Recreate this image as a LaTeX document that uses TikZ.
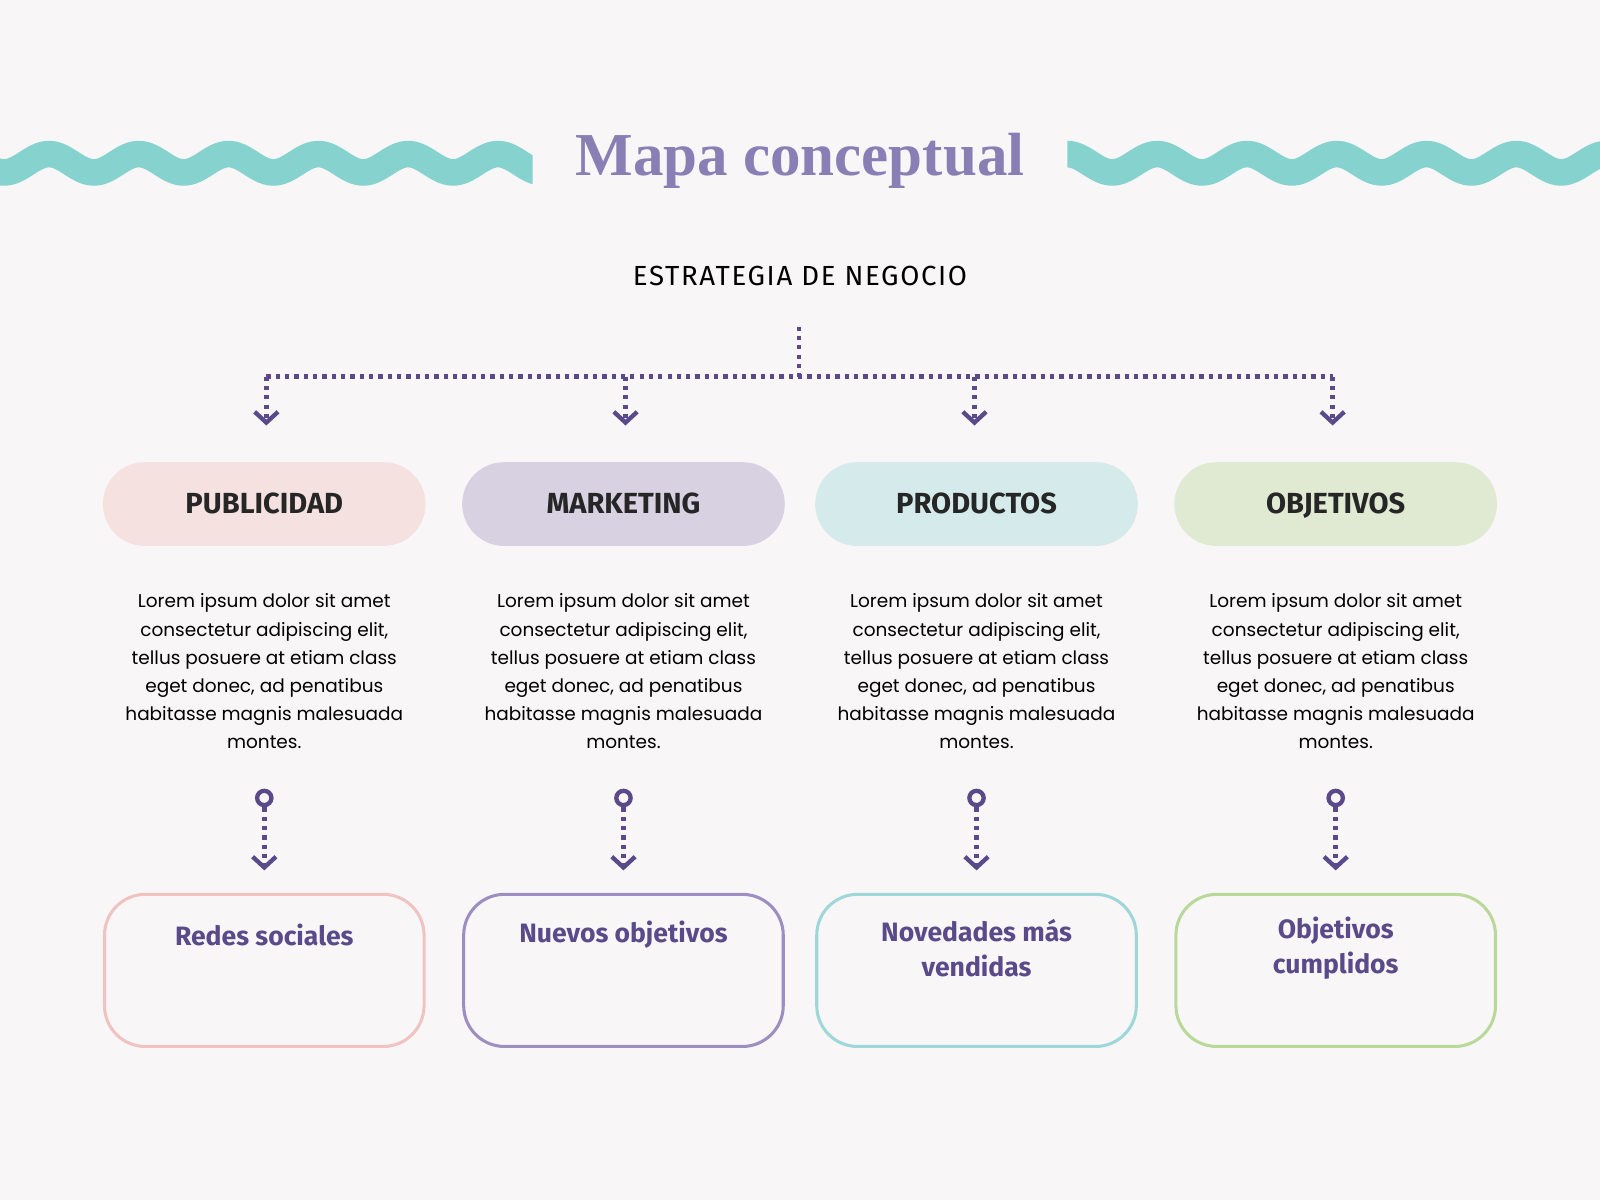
\documentclass[tikz,border=0pt]{standalone}
\usepackage{fontspec}
\setmainfont{Lato}
\newfontfamily\titlefont{Liberation Serif}
\newfontfamily\headfont{Fira Sans}
\newfontfamily\bodyfont{Poppins}
\usetikzlibrary{arrows.meta}
\definecolor{bg}{HTML}{F8F6F7}
\definecolor{wave}{HTML}{86D2CF}
\definecolor{ttl}{HTML}{8A7FB5}
\definecolor{pur}{HTML}{5A4A8A}
\definecolor{f1}{HTML}{F6E1E1}\definecolor{f2}{HTML}{D7D1E2}
\definecolor{f3}{HTML}{D5EAEA}\definecolor{f4}{HTML}{E0EAD3}
\definecolor{b1}{HTML}{F0C3C3}\definecolor{b2}{HTML}{9A8FC0}
\definecolor{b3}{HTML}{9FD7D8}\definecolor{b4}{HTML}{B8D99A}
\begin{document}
\begin{tikzpicture}[x=0.01cm,y=-0.01cm,
 pill/.style={rounded corners=0.41cm,minimum width=3.16cm,minimum height=0.82cm,text height=1.8mm,text depth=0mm,font=\headfont\bfseries\fontsize{8.1}{9}\selectfont,text=black!85},
 box/.style={draw,line width=0.85pt,rounded corners=0.4cm,minimum width=3.13cm,minimum height=1.49cm},
 boxt/.style={font=\headfont\bfseries\fontsize{7.4}{9.6}\selectfont,text=pur,align=center},
 body/.style={font=\bodyfont\fontsize{5.15}{7.85}\selectfont,align=center,text=black},
 dot/.style={draw=pur,line width=1.25pt,dash pattern=on 1.2pt off 1.4pt},
 tip/.style={-{Straight Barb[length=3pt,width=6.5pt,line width=1.2pt]}}]
\fill[bg] (0,0) rectangle (1568,1176);
\useasboundingbox (0,0) rectangle (1568,1176);
\begin{scope}
\clip (0,100) rectangle (522,200);
\draw[wave,line width=0.26cm] plot[domain=-10:530,samples=200,smooth] (\x,{160-9*cos((\x-48)/88*360)});
\end{scope}
\begin{scope}
\clip (1046,100) rectangle (1568,200);
\draw[wave,line width=0.26cm] plot[domain=1040:1580,samples=200,smooth] (\x,{160-9*cos((\x-1134)/88*360)});
\end{scope}
\node (title) at (784,158) {\titlefont\bfseries\fontsize{17}{20}\selectfont\color{ttl}Mapa conceptual};
\node (root) at (784,270) {\headfont\fontsize{7.7}{9}\selectfont\addfontfeature{LetterSpace=6}ESTRATEGIA DE NEGOCIO};
\coordinate (top) at (783,320);
\coordinate (hub) at (783,369);
\foreach \i/\x/\lab in {1/259/PUBLICIDAD,2/611/MARKETING,3/957/PRODUCTOS,4/1309/OBJETIVOS}{
 \node[pill,fill=f\i] (p\i) at (\x,494) {\lab};
 \node[body] (t\i) at (\x,658) {Lorem ipsum dolor sit amet\\consectetur adipiscing elit,\\tellus posuere at etiam class\\eget donec, ad penatibus\\habitasse magnis malesuada\\montes.};
 \node[box,draw=b\i] (b\i) at (\x,951) {};
 \node[draw=pur,line width=1.2pt,circle,inner sep=0pt,minimum size=0.14cm] (c\i) at (\x,782) {};
 \coordinate (e\i) at (\x,853);
 \draw[dot,tip] (c\i.south) -- (e\i);
}
\coordinate (a1) at (261,369);\coordinate (a2) at (613,369);
\coordinate (a3) at (955,369);\coordinate (a4) at (1306,369);
\coordinate (d1) at (261,417);\coordinate (d2) at (613,417);
\coordinate (d3) at (955,417);\coordinate (d4) at (1306,417);
\draw[dot] (top) -- (hub);
\draw[dot] (a1) -- (a4);
\foreach \i in {1,...,4}{\draw[dot,tip] (a\i) -- (d\i);}
\node[boxt] at (259,916) {Redes sociales};
\node[boxt] at (611,916) {Nuevos objetivos};
\node[boxt] at (957,929) {Novedades más\\vendidas};
\node[boxt] at (1309,929) {Objetivos\\cumplidos};
\end{tikzpicture}
\end{document}
